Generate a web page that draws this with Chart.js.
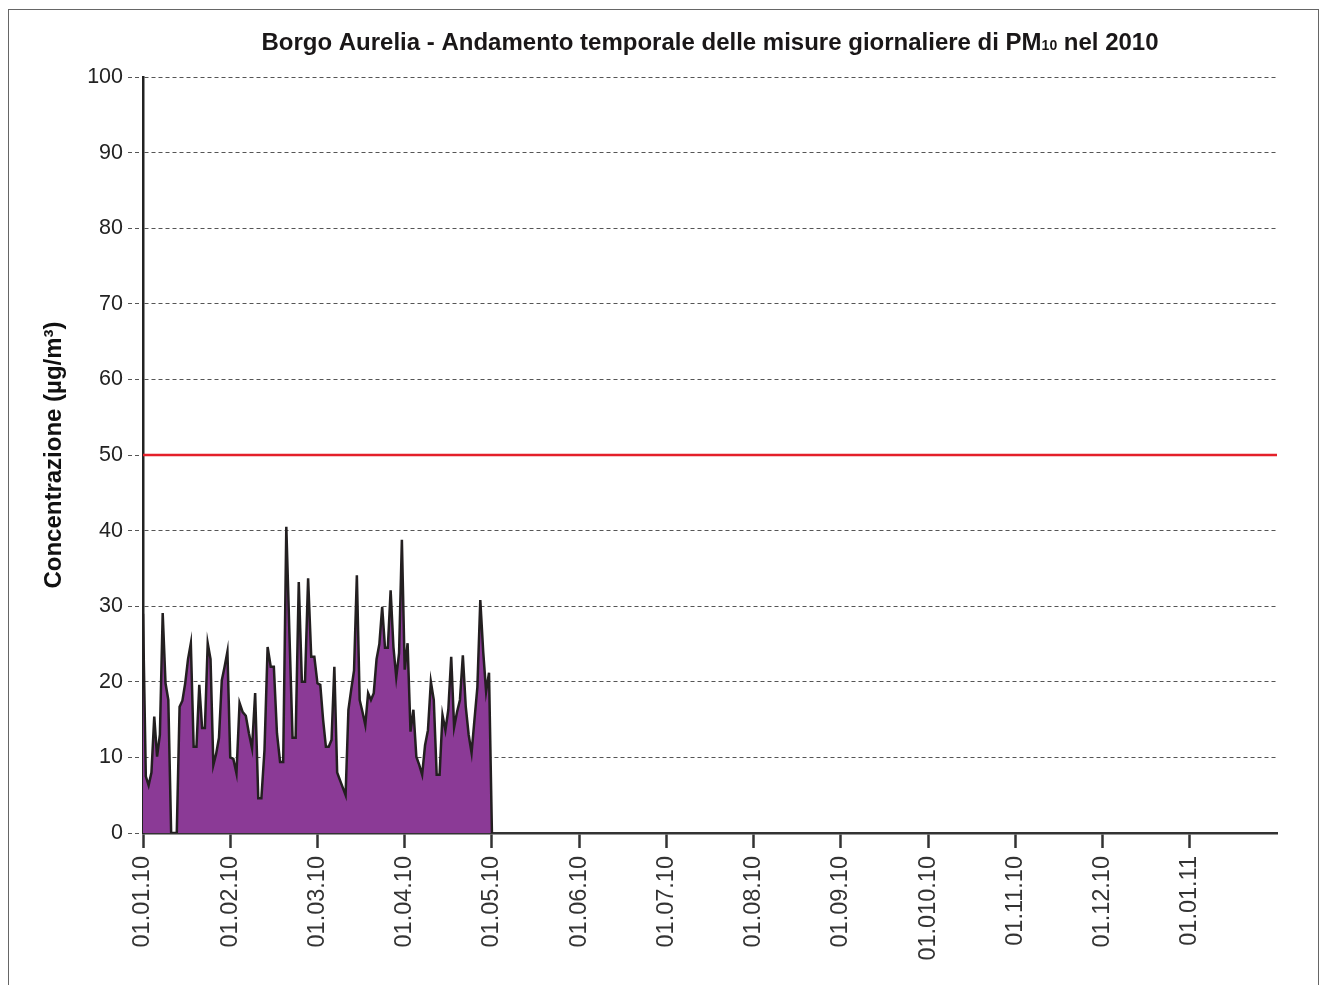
<!DOCTYPE html>
<html>
<head>
<meta charset="utf-8">
<script src="https://cdn.jsdelivr.net/npm/chart.js@4/dist/chart.umd.min.js"></script>
<style>
  html, body { margin: 0; padding: 0; background: #fff; }
  #frame { position: absolute; left: 8px; top: 9px; width: 1311px; height: 1100px; border: 1px solid #666; box-sizing: border-box; }
  #wrap { position: absolute; left: 0; top: 0; width: 1327px; height: 985px; }
</style>
</head>
<body>
<div id="frame"></div>
<div id="wrap"><canvas id="pmChart" width="1327" height="985"></canvas></div>
<script>
// Tick labels on the time axis (one per month, equal spacing)
const monthLabels = ['01.01.10', '01.02.10', '01.03.10', '01.04.10', '01.05.10', '01.06.10',
  '01.07.10', '01.08.10', '01.09.10', '01.010.10', '01.11.10', '01.12.10', '01.01.11'];

// Daily PM10 values (µg/m³)
const janValues = [29, 7.5, 6.3, 8, 15.4, 10.1, 13, 29.1, 19.8, 17.6, 0, 0, 0, 16.7, 17.5, 19.8,
  23, 25.1, 11.4, 11.4, 19.6, 13.9, 13.9, 25.1, 23, 9, 10.5, 12.6, 20.2, 22, 24];
const febValues = [10, 9.8, 7.9, 17.2, 16, 15.5, 13.2, 11.2, 18.5, 4.6, 4.6, 11, 24.6, 22, 22,
  13.2, 9.4, 9.4, 40.5, 26.4, 12.6, 12.6, 33.2, 20, 20, 33.7, 23.3, 23.3];
const marValues = [19.8, 19.6, 15, 11.4, 11.4, 12.3, 22, 8, 7, 6, 5, 16.3, 19, 21.5, 34.1, 17.6,
  16, 14.3, 18.5, 17.6, 18.5, 23, 25, 29.9, 24.5, 24.5, 32.1, 24.6, 20.6, 23.8, 38.8];
const aprValues = [21.6, 25.1, 13.4, 16.3, 10.1, 9, 7.7, 11.6, 13.6, 20, 17.6, 7.7, 7.7, 15.6,
  13.6, 16.3, 23.3, 14, 16, 17.6, 23.5, 16.7, 13, 10.6, 15, 19.3, 30.8, 24, 18.7, 21.2];
const mayValues = [0];

const limitValue = 50;   // daily limit
const yMin = 0, yMax = 100, yStep = 10;
const axisEnd = 13;      // axis runs a bit past 01.01.11

const fontFamily = '"Liberation Sans", Arial, sans-serif';

// build points: month index + fraction of month
const points = [];
[janValues, febValues, marValues, aprValues, mayValues].forEach((vals, m) => {
  vals.forEach((v, d) => points.push({ x: m + d / vals.length, y: v }));
});

// Title with subscript "10"
const titlePlugin = {
  id: 'pmTitle',
  afterDraw(chart) {
    const ctx = chart.ctx;
    const parts = [
      { t: 'Borgo Aurelia - Andamento temporale delle misure giornaliere di PM', size: 24 },
      { t: '10', size: 14 },
      { t: ' nel 2010', size: 24 }
    ];
    ctx.save();
    let total = 0;
    parts.forEach(p => {
      ctx.font = 'bold ' + p.size + 'px ' + fontFamily;
      p.w = ctx.measureText(p.t).width;
      total += p.w;
    });
    const area = chart.chartArea;
    let x = (area.left + area.right) / 2 - total / 2;
    ctx.fillStyle = '#1a1718';
    ctx.textBaseline = 'alphabetic';
    ctx.textAlign = 'left';
    parts.forEach(p => {
      ctx.font = 'bold ' + p.size + 'px ' + fontFamily;
      ctx.fillText(p.t, x, 50);
      x += p.w;
    });
    ctx.restore();
  }
};

const ctx = document.getElementById('pmChart').getContext('2d');
new Chart(ctx, {
  type: 'line',
  data: {
    datasets: [{
      data: points,
      borderColor: '#231f20',
      borderWidth: 2.5,
      backgroundColor: '#8b3a96',
      fill: 'origin',
      pointRadius: 0,
      tension: 0
    }, {
      data: [{ x: 0, y: limitValue }, { x: axisEnd, y: limitValue }],
      borderColor: '#e4202a',
      borderWidth: 2.5,
      fill: false,
      pointRadius: 0
    }]
  },
  options: {
    responsive: false,
    animation: false,
    layout: { padding: { top: 77, right: 50, left: 0, bottom: 0 } },
    plugins: {
      legend: { display: false },
      tooltip: { enabled: false },
      title: { display: false }
    },
    scales: {
      x: {
        type: 'linear',
        min: 0,
        max: axisEnd,
        afterBuildTicks: (scale) => {
          scale.ticks = monthLabels.map((l, i) => ({ value: i }));
        },
        afterFit: (scale) => { scale.height = 152; },
        ticks: {
          autoSkip: false,
          minRotation: 90,
          maxRotation: 90,
          padding: 8,
          color: '#333',
          font: { family: fontFamily, size: 23.5 },
          callback: (v) => monthLabels[v]
        },
        grid: {
          drawOnChartArea: false,
          drawTicks: true,
          tickLength: 15,
          tickColor: '#333',
          tickWidth: 2.5
        },
        border: { color: '#333', width: 2.5 }
      },
      y: {
        min: yMin,
        max: yMax,
        afterFit: (scale) => { scale.width = 143; },
        ticks: {
          stepSize: yStep,
          padding: 5,
          color: '#222',
          font: { family: fontFamily, size: 21.5 }
        },
        grid: {
          color: '#555',
          lineWidth: 1,
          tickLength: 15,
          tickColor: '#555',
          tickBorderDash: [4, 3]
        },
        border: { color: '#222', width: 2.5, dash: [4, 3] },
        title: {
          display: true,
          text: 'Concentrazione (µg/m³)',
          color: '#111',
          font: { family: fontFamily, size: 24, weight: 'bold' },
          padding: { top: 40, bottom: 0 }
        }
      }
    }
  },
  plugins: [titlePlugin]
});
</script>
</body>
</html>
